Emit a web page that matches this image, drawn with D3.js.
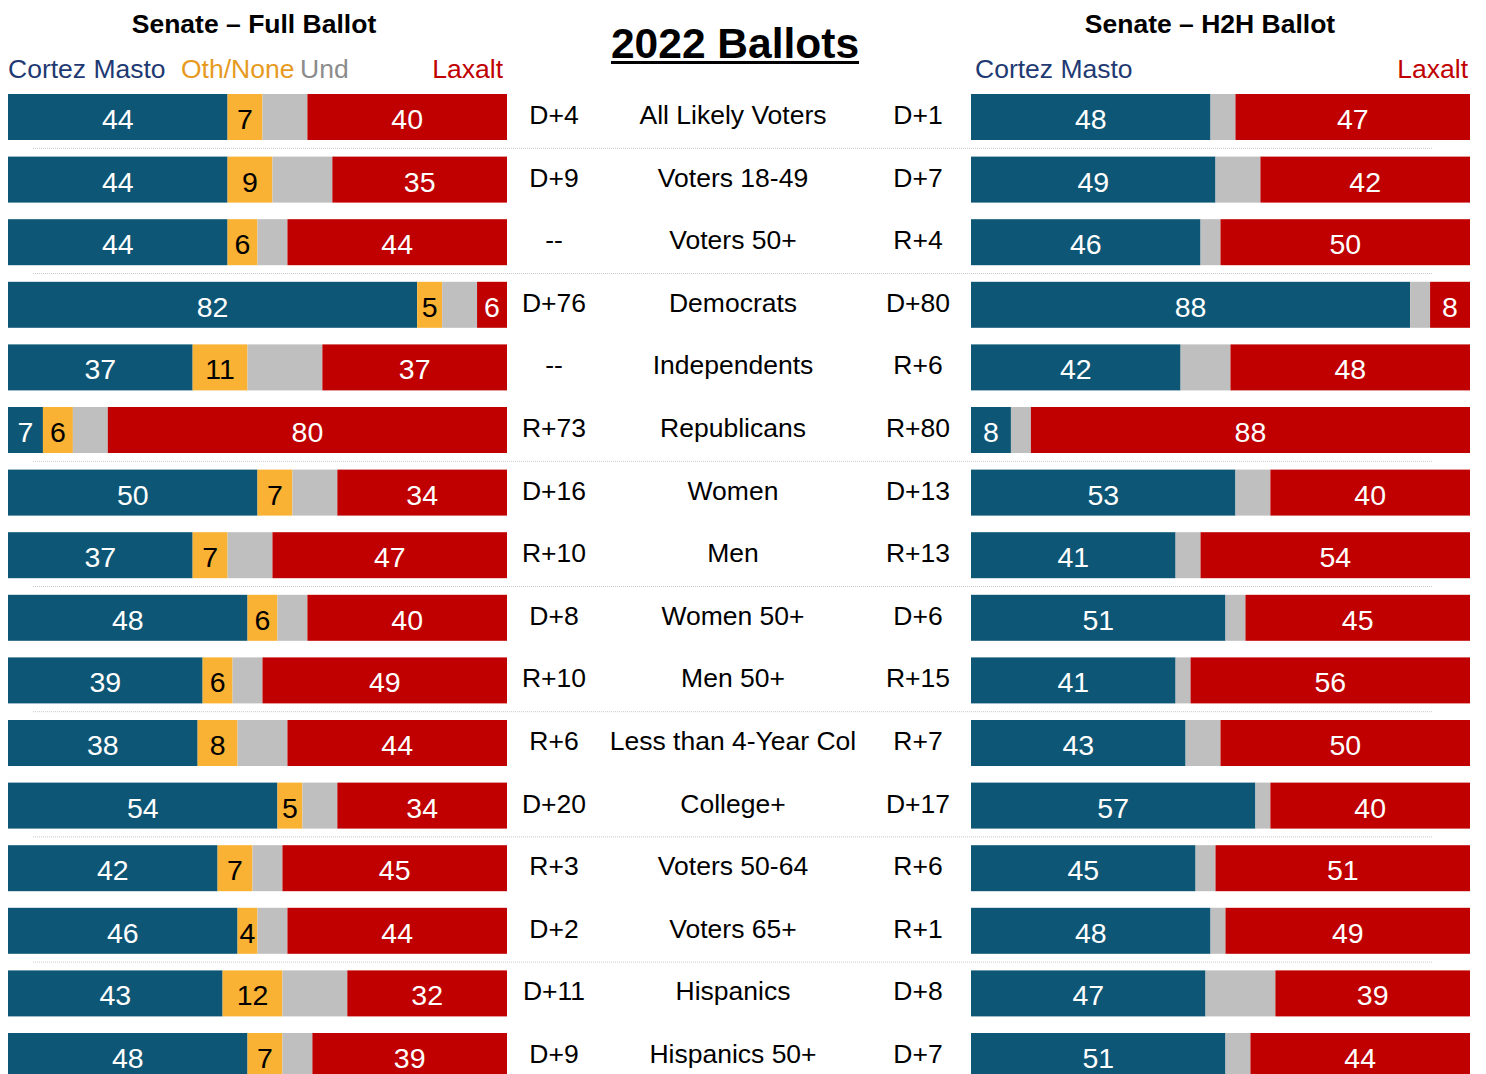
<!DOCTYPE html>
<html>
<head>
<meta charset="utf-8">
<script src="https://cdn.jsdelivr.net/npm/d3@7"></script>
<style>
  body { margin: 0; background: #fff; }
  svg { display: block; font-family: Arial, "Liberation Sans", sans-serif; }
</style>
</head>
<body>
<svg id="chart" width="1486" height="1074"></svg>
<script>
// row labels
var groups = ["All Likely Voters", "Voters 18-49", "Voters 50+", "Democrats", "Independents",
  "Republicans", "Women", "Men", "Women 50+", "Men 50+", "Less than 4-Year Col", "College+",
  "Voters 50-64", "Voters 65+", "Hispanics", "Hispanics 50+"];

// full ballot
var fullDem = [44, 44, 44, 82, 37, 7, 50, 37, 48, 39, 38, 54, 42, 46, 43, 48];
var fullOth = [7, 9, 6, 5, 11, 6, 7, 7, 6, 6, 8, 5, 7, 4, 12, 7];
var fullUnd = [9, 12, 6, 7, 15, 7, 9, 9, 6, 6, 10, 7, 6, 6, 13, 6];
var fullRep = [40, 35, 44, 6, 37, 80, 34, 47, 40, 49, 44, 34, 45, 44, 32, 39];
var fullMargin = ["D+4", "D+9", "--", "D+76", "--", "R+73", "D+16", "R+10", "D+8", "R+10",
  "R+6", "D+20", "R+3", "D+2", "D+11", "D+9"];

// head to head ballot
var h2hDem = [48, 49, 46, 88, 42, 8, 53, 41, 51, 41, 43, 57, 45, 48, 47, 51];
var h2hUnd = [5, 9, 4, 4, 10, 4, 7, 5, 4, 3, 7, 3, 4, 3, 14, 5];
var h2hRep = [47, 42, 50, 8, 48, 88, 40, 54, 45, 56, 50, 40, 51, 49, 39, 44];
var h2hMargin = ["D+1", "D+7", "R+4", "D+80", "R+6", "R+80", "D+13", "R+13", "D+6", "R+15",
  "R+7", "D+17", "R+6", "R+1", "D+8", "D+7"];

// rows after which a dotted rule is drawn
var breaksAfter = [0, 2, 5, 7, 9, 11, 13];

var colors = { dem: "#0D5675", oth: "#F9B233", und: "#BFBFBF", rep: "#C00000" };
var textCol = { dem: "#fff", oth: "#000", und: "#000", rep: "#fff" };

var svg = d3.select("#chart");

var step = 62.6;
var y = d3.scaleBand()
  .domain(groups)
  .range([94 - step * 0.1326, 94 - step * 0.1326 + step * groups.length])
  .paddingInner(0.2652)
  .paddingOuter(0.1326);

var xFull = d3.scaleLinear().domain([0, 100]).range([8, 507]);
var xH2h = d3.scaleLinear().domain([0, 100]).range([971, 1470]);

function stackRows(keys, arrays) {
  return groups.map(function(g, i) {
    var acc = 0;
    return keys.map(function(k, j) {
      var v = arrays[j][i];
      var seg = { group: g, key: k, value: v, x0: acc, x1: acc + v };
      acc += v;
      return seg;
    });
  });
}

function drawPanel(cls, x, rows) {
  var panel = svg.append("g").attr("class", cls);
  var row = panel.selectAll("g.row")
    .data(rows)
    .enter()
    .append("g")
      .attr("class", "row");

  var seg = row.selectAll("g.seg")
    .data(function(d) { return d; })
    .enter()
    .append("g")
      .attr("class", "seg");

  seg.append("rect")
    .attr("x", function(d) { return x(d.x0); })
    .attr("y", function(d) { return y(d.group); })
    .attr("width", function(d) { return x(d.x1) - x(d.x0); })
    .attr("height", y.bandwidth())
    .attr("fill", function(d) { return colors[d.key]; });

  seg.filter(function(d) { return d.key !== "und"; })
    .append("text")
      .attr("x", function(d) { return (x(d.x0) + x(d.x1)) / 2; })
      .attr("y", function(d) { return y(d.group) + y.bandwidth() / 2 + 2; })
      .attr("text-anchor", "middle")
      .attr("dominant-baseline", "central")
      .attr("font-size", 28.5)
      .attr("fill", function(d) { return textCol[d.key]; })
      .text(function(d) { return d.value; });
}

// dotted separators
svg.append("g").attr("class", "rules")
  .selectAll("line")
  .data(breaksAfter)
  .enter()
  .append("line")
    .attr("x1", 33)
    .attr("x2", 1433)
    .attr("y1", function(i) { return y(groups[i]) + y.bandwidth() + (step - y.bandwidth()) / 2; })
    .attr("y2", function(i) { return y(groups[i]) + y.bandwidth() + (step - y.bandwidth()) / 2; })
    .attr("stroke", "#C8C8C8")
    .attr("stroke-width", 1)
    .attr("stroke-dasharray", "1,1");

drawPanel("full", xFull, stackRows(["dem", "oth", "und", "rep"], [fullDem, fullOth, fullUnd, fullRep]));
drawPanel("h2h", xH2h, stackRows(["dem", "und", "rep"], [h2hDem, h2hUnd, h2hRep]));

// middle text columns
var mid = svg.append("g").attr("class", "middle")
  .attr("font-size", 26.5)
  .attr("fill", "#000")
  .attr("text-anchor", "middle")
  .attr("dominant-baseline", "central");

function midColumn(cx, values) {
  mid.append("g").selectAll("text")
    .data(values)
    .enter()
    .append("text")
      .attr("x", cx)
      .attr("y", function(d, i) { return y(groups[i]) + y.bandwidth() / 2 - 2; })
      .text(function(d) { return d; });
}
midColumn(554, fullMargin);
midColumn(733, groups);
midColumn(918, h2hMargin);

// headers
svg.append("text")
  .attr("x", 254).attr("y", 24)
  .attr("text-anchor", "middle").attr("dominant-baseline", "central")
  .attr("font-size", 26.5).attr("font-weight", "bold")
  .text("Senate \u2013 Full Ballot");

svg.append("text")
  .attr("x", 1210).attr("y", 24)
  .attr("text-anchor", "middle").attr("dominant-baseline", "central")
  .attr("font-size", 26.5).attr("font-weight", "bold")
  .text("Senate \u2013 H2H Ballot");

var title = svg.append("text")
  .attr("x", 735).attr("y", 43)
  .attr("text-anchor", "middle").attr("dominant-baseline", "central")
  .attr("font-size", 42.5).attr("font-weight", "bold")
  .text("2022 Ballots");
var tb = title.node().getBBox();
svg.append("rect")
  .attr("x", tb.x).attr("y", 61)
  .attr("width", tb.width).attr("height", 3)
  .attr("fill", "#000");

// legend labels
var legend = svg.append("g").attr("class", "legend")
  .attr("font-size", 26.5).attr("dominant-baseline", "central");
legend.append("text").attr("x", 8).attr("y", 69).attr("fill", "#1F3A73").text("Cortez Masto");
legend.append("text").attr("x", 181).attr("y", 69).attr("fill", "#E69A1E").text("Oth/None");
legend.append("text").attr("x", 300).attr("y", 69).attr("fill", "#8C8C8C").text("Und");
legend.append("text").attr("x", 503).attr("y", 69).attr("fill", "#C00000")
  .attr("text-anchor", "end").text("Laxalt");
legend.append("text").attr("x", 975).attr("y", 69).attr("fill", "#1F3A73").text("Cortez Masto");
legend.append("text").attr("x", 1468).attr("y", 69).attr("fill", "#C00000")
  .attr("text-anchor", "end").text("Laxalt");
</script>
</body>
</html>
